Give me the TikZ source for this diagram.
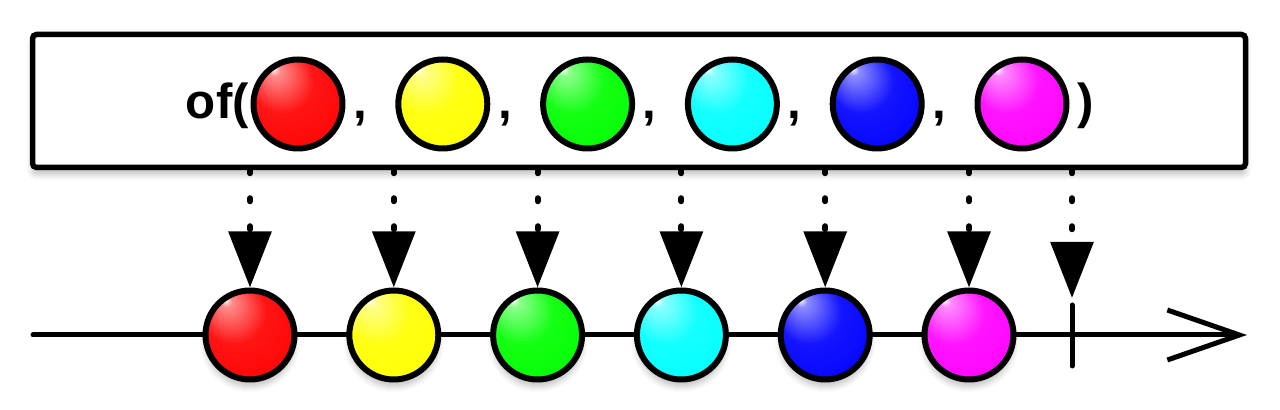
\documentclass[tikz,border=0pt]{standalone}
\usepackage{fontspec}
\setsansfont{Liberation Sans}
\usetikzlibrary{arrows.meta,shadows.blur}
\colorlet{marblecol}{red}
\pgfdeclareradialshading[marblecol]{marble}{\pgfqpoint{-14bp}{20bp}}{%
  color(0bp)=(white); color(3bp)=(marblecol!45!white); color(18bp)=(marblecol!92!white);
  color(40bp)=(marblecol); color(50bp)=(marblecol!72!black)}

\begin{document}
\begin{tikzpicture}[x=0.1mm,y=-0.1mm,
  marble/.style={circle,draw,line width=0.6mm,minimum size=8.9mm,inner sep=0pt,
    /utils/exec={\colorlet{marblecol}{#1}},shading=marble},
  shadowed/.style={blur shadow={shadow xshift=0mm,shadow yshift=-0.7mm,shadow opacity=25,shadow blur steps=6}},
  label/.style={inner sep=0pt,font=\sffamily\bfseries\fontsize{14}{16}\selectfont},
  feed/.style={line width=0.6mm,line cap=round,dash pattern=on 0.3mm off 2.5mm,
    -{Triangle[length=5.6mm,width=4.2mm]}},
  timeline/.style={line width=0.5mm,line cap=round,-{Straight Barb[length=7.2mm,width=5mm]}}]
  \useasboundingbox (0,0) rectangle (1280,410);
  % operator box
  \node[draw,line width=0.55mm,rounded corners=0.4mm,fill=white,minimum width=121.3mm,minimum height=13.3mm,
    shadowed] (box) at (639,101) {};
  \foreach \c [count=\i] in {red,yellow,green,cyan,blue,magenta}
   \node[marble=\c] (t\i) at (298+144.8*\i-144.8,104) {};
  \node[label,anchor=base east] (open) at ([shift={(-1,15)}]t1.west) {of(};
  \foreach \i in {1,...,5}
   \node[label,anchor=base west] (comma\i) at ([shift={(7,15)}]t\i.east) {,};
  \node[label,anchor=base west] (close) at ([shift={(7,15)}]t6.east) {)};
  % time line
  \coordinate (tstart) at (33,335);
  \coordinate (tend) at (1247,335);
  \draw[timeline] (tstart) -- (tend);
  \foreach \c [count=\i] in {red,yellow,green,cyan,blue,magenta}
   \node[marble=\c,shadowed] (b\i) at (250+143.8*\i-143.8,335) {};
  % completion
  \coordinate (donetop) at (1072,305);
  \coordinate (donebot) at (1072,366);
  \coordinate (donetip) at (1072,298);
  \draw[line width=0.5mm,line cap=round] (donetop) -- (donebot);
  % emissions
  \foreach \i in {1,...,6}
   \draw[feed] (b\i |- box.south) -- (b\i.north);
  \draw[feed] (donetip |- box.south) -- (donetip);
\end{tikzpicture}
\end{document}
